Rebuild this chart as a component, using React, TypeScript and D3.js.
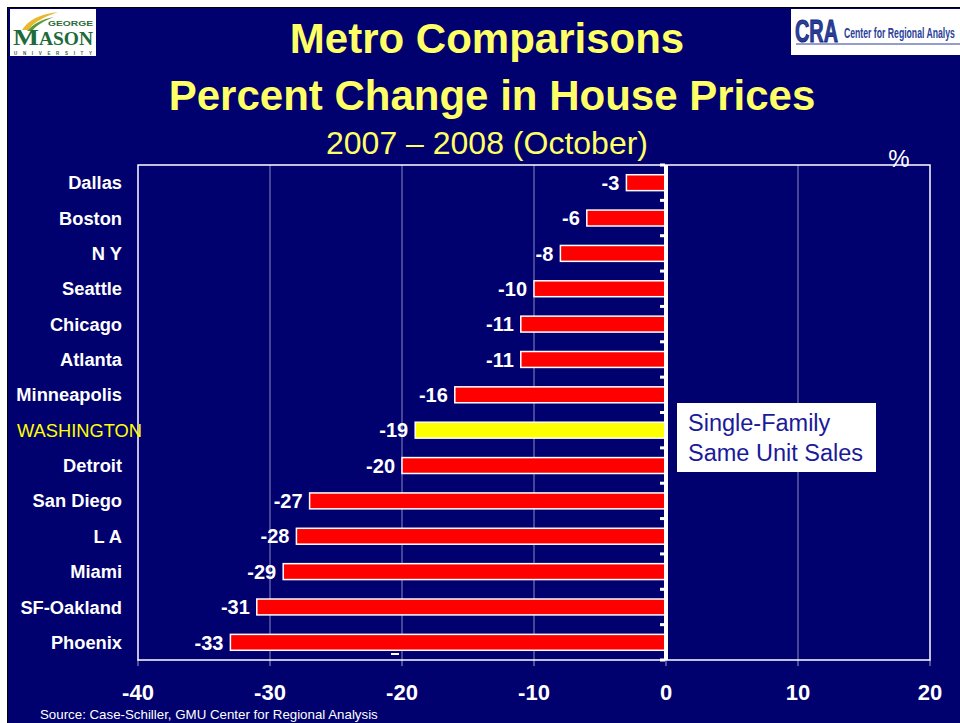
import React from "react";
import * as d3 from "d3";

const categories = ["Dallas", "Boston", "N Y", "Seattle", "Chicago", "Atlanta", "Minneapolis", "WASHINGTON", "Detroit", "San Diego", "L A", "Miami", "SF-Oakland", "Phoenix"];
const values = [-3, -6, -8, -10, -11, -11, -16, -19, -20, -27, -28, -29, -31, -33];
const xTicks = [-40, -30, -20, -10, 0, 10, 20];
const gridTicks = [-30, -20, -10, 10];
const highlight = "WASHINGTON";
const titleLines = ["Metro Comparisons", "Percent Change in House Prices"];
const subtitle = "2007 – 2008 (October)";
const legendLines = ["Single-Family", "Same Unit Sales"];
const sourceText = "Source: Case-Schiller, GMU Center for Regional Analysis";

const W = 960;
const H = 723;
const NAVY = "#00006e";
const FONT = "'Liberation Sans', Arial, sans-serif";

export default function App() {
  const left = 138, right = 930, top = 165, bottom = 660;
  const x = d3.scaleLinear().domain([-40, 20]).range([left, right]);
  const y = d3.scaleBand<string>().domain(categories).range([top, bottom]).paddingInner(0.55).paddingOuter(0.275);
  const step = y.step();
  const x0 = x(0);

  return (
    <svg width={W} height={H} style={{ position: "absolute", left: 0, top: 0 }} fontFamily={FONT}>
      <rect x={0} y={0} width={W} height={H} fill="#ffffff" />
      <rect x={7} y={7} width={W - 7} height={H - 7} fill="#000000" />
      <rect x={8} y={8} width={W - 8} height={H - 8} fill={NAVY} />

      {/* GMU logo */}
      <g>
        <rect x={10} y={9} width={86} height={47} fill="#ffffff" />
        <path d="M22,30 C28,20 40,14 58,12 C44,17 34,22 28,30 Z" fill="#e8b830" />
        <path d="M27,31 C33,24 42,19 54,17 C44,21 37,25 32,31 Z" fill="#5a9a3a" />
        <text x={48} y={26} fontSize={8} fontWeight="bold" fill="#2f6a3a" textLength={45} lengthAdjust="spacingAndGlyphs">GEORGE</text>
        <text x={13} y={45} fontSize={24} fontWeight="bold" fill="#1e6a3a" fontFamily="'Liberation Serif', serif" textLength={26} lengthAdjust="spacingAndGlyphs">M</text>
        <text x={39} y={45} fontSize={18} fontWeight="bold" fill="#1e6a3a" fontFamily="'Liberation Serif', serif" textLength={54} lengthAdjust="spacingAndGlyphs">ASON</text>
        <text x={14} y={55} fontSize={4.5} fontWeight="bold" fill="#2f6a3a" textLength={78} lengthAdjust="spacing">UNIVERSITY</text>
      </g>

      {/* CRA logo */}
      <g>
        <rect x={791} y={9} width={169} height={46} fill="#ffffff" />
        <g transform="translate(795,42) scale(0.62,1)">
          <text x={0} y={0} fontSize={32} fontWeight="bold" fill="#2a3f9a" stroke="#1a2a7a" strokeWidth={1}>CRA</text>
        </g>
        <g transform="translate(844,38) scale(0.62,1)">
          <text x={0} y={0} fontSize={14} fontWeight="bold" fill="#2a3f9a">Center for Regional Analys</text>
        </g>
        <line x1={796} x2={960} y1={44} y2={44} stroke="#2a3f9a" strokeWidth={1} />
      </g>

      {/* titles */}
      <text x={487} y={53} textAnchor="middle" fontSize={42} fontWeight="bold" fill="#ffff66">{titleLines[0]}</text>
      <text x={492} y={110} textAnchor="middle" fontSize={42} fontWeight="bold" fill="#ffff66">{titleLines[1]}</text>
      <text x={487} y={154} textAnchor="middle" fontSize={32} fill="#ffff66">{subtitle}</text>
      <text x={899} y={167} textAnchor="middle" fontSize={24} fill="#ffffff">%</text>

      {/* gridlines */}
      {gridTicks.map((t) => (
        <line key={"g" + t} x1={x(t)} x2={x(t)} y1={top} y2={bottom} stroke="#8a8ac0" strokeWidth={1} />
      ))}
      {/* bottom ticks */}
      {xTicks.map((t) => (
        <line key={"bt" + t} x1={x(t)} x2={x(t)} y1={bottom} y2={bottom + 6} stroke="#a0a0d0" strokeWidth={1} />
      ))}

      {/* plot border */}
      <rect x={left} y={top} width={right - left} height={bottom - top} fill="none" stroke="#ffffff" strokeWidth={1.5} />

      {/* bars */}
      {categories.map((c, i) => {
        const v = values[i];
        const yy = y(c) as number;
        return (
          <rect key={"b" + c} x={x(v)} y={yy} width={x0 - x(v)} height={y.bandwidth()} fill={c === highlight ? "#ffff00" : "#ff0000"} stroke="#ffffff" strokeWidth={1.5} />
        );
      })}

      {/* zero axis */}
      <line x1={x0} x2={x0} y1={top} y2={bottom} stroke="#ffffff" strokeWidth={4} />
      {d3.range(categories.length + 1).map((i) => (
        <rect key={"zt" + i} x={x0 - 6} y={top + i * step - 1.5} width={5} height={3} fill="#ffffff" />
      ))}

      {/* category labels */}
      {categories.map((c) => {
        const cy = (y(c) as number) + y.bandwidth() / 2;
        if (c === highlight) {
          return (
            <text key={"l" + c} x={17} y={cy} dy="0.36em" fontSize={18.3} fill="#ffff00">{c}</text>
          );
        }
        return (
          <text key={"l" + c} x={122} y={cy} dy="0.36em" textAnchor="end" fontSize={18.3} fontWeight="bold" fill="#ffffff">{c}</text>
        );
      })}

      {/* value labels */}
      {categories.map((c, i) => {
        const cy = (y(c) as number) + y.bandwidth() / 2;
        return (
          <text key={"v" + c} x={x(values[i]) - 7} y={cy} dy="0.36em" textAnchor="end" fontSize={20} fontWeight="bold" fill="#ffffff">{values[i]}</text>
        );
      })}

      {/* small artifact dash */}
      <rect x={391} y={653} width={8} height={2} fill="#ffffff" />

      {/* x tick labels */}
      {xTicks.map((t) => (
        <text key={"xl" + t} x={x(t)} y={700} textAnchor="middle" fontSize={22} fontWeight="bold" fill="#ffffff">{t}</text>
      ))}

      {/* legend box */}
      <rect x={677} y={403} width={199} height={69} fill="#ffffff" />
      <text x={688} y={431} fontSize={23.5} fill="#1a1a9a">{legendLines[0]}</text>
      <text x={688} y={461} fontSize={23.5} fill="#1a1a9a">{legendLines[1]}</text>

      <text x={40} y={719} fontSize={13.3} fill="#ffffff">{sourceText}</text>
    </svg>
  );
}
